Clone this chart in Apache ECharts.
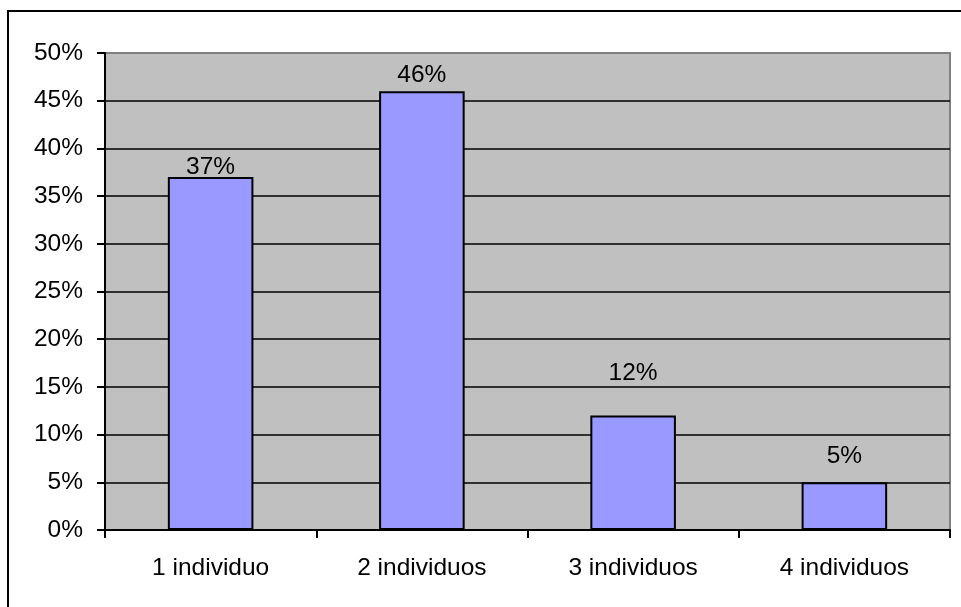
<!DOCTYPE html>
<html>
<head>
<meta charset="utf-8">
<script src="https://cdn.jsdelivr.net/npm/echarts@6/dist/echarts.min.js"></script>
<style>
  html, body { margin: 0; padding: 0; background: #fff; }
  #chart { width: 961px; height: 607px; position: relative; }
  .frame {
    position: absolute; left: 7px; top: 10px; right: -5px; bottom: -5px;
    border-left: 2px solid #000; border-top: 2px solid #000;
    pointer-events: none;
  }
</style>
</head>
<body>
<div id="chart"></div>
<div class="frame"></div>
<script>
// datos
var categorias = ["1 individuo", "2 individuos", "3 individuos", "4 individuos"];
var porcentajes = [37, 46, 12, 5];
// separación de la etiqueta sobre cada barra (estilo)
var labelGaps = [-3, 3, 30, 14];

var chart = echarts.init(document.getElementById("chart"));

var option = {
  animation: false,
  textStyle: { fontFamily: "Liberation Sans, Arial, sans-serif" },
  grid: {
    left: 105,
    right: 11,
    top: 53,
    bottom: 77,
    show: true,
    backgroundColor: "#C0C0C0",
    borderColor: "#808080",
    borderWidth: 2
  },
  xAxis: {
    type: "category",
    data: categorias,
    axisLine: { lineStyle: { color: "#000", width: 2 } },
    axisTick: { show: true, length: 8, lineStyle: { color: "#000", width: 2 } },
    axisLabel: { color: "#000", fontSize: 24.5, margin: 26 }
  },
  yAxis: {
    type: "value",
    min: 0,
    max: 50,
    interval: 5,
    axisLine: { show: true, lineStyle: { color: "#000", width: 2 } },
    axisTick: { show: true, length: 8, lineStyle: { color: "#000", width: 2 } },
    axisLabel: { color: "#000", fontSize: 24.5, margin: 22, formatter: "{value}%" },
    splitLine: { show: true, showMaxLine: false, lineStyle: { color: "#000", width: 1.5 } }
  },
  series: [
    {
      type: "bar",
      barWidth: "40.5%",
      data: porcentajes.map(function (v, i) {
        return { value: v, label: { distance: labelGaps[i] } };
      }),
      itemStyle: { color: "#9999FF", borderColor: "#000", borderWidth: 2 },
      label: {
        show: true,
        position: "top",
        color: "#000",
        fontSize: 24.5,
        formatter: "{c}%"
      }
    }
  ]
};

chart.setOption(option);
</script>
</body>
</html>
